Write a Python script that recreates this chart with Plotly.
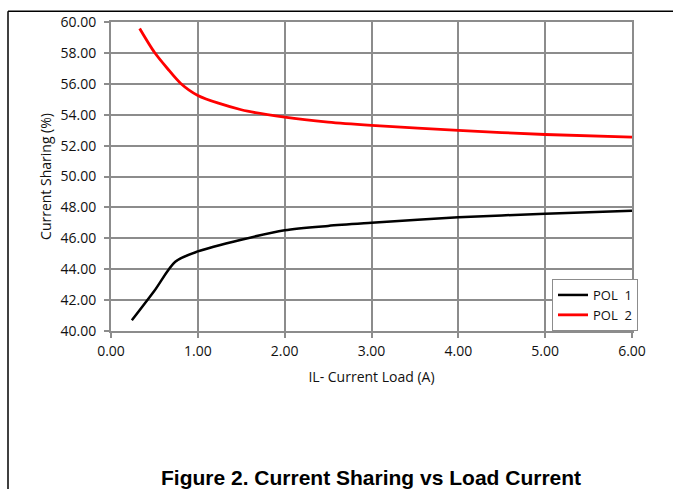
import plotly.graph_objects as go

# POL 1 (black)
x_pol1 = [0.24, 0.5, 0.74, 1.0, 1.5, 2.0, 2.5, 3.0, 4.0, 5.0, 6.0]
y_pol1 = [40.69, 42.6, 44.48, 45.15, 45.91, 46.52, 46.8, 47.0, 47.36, 47.59, 47.78]
# POL 2 (red)
x_pol2 = [0.33, 0.5, 0.65, 0.8, 1.0, 1.5, 2.0, 2.5, 3.0, 4.0, 5.0, 6.0]
y_pol2 = [59.58, 58.04, 56.99, 56.04, 55.25, 54.32, 53.84, 53.52, 53.31, 52.98, 52.72, 52.55]

x_ticks = [0, 1, 2, 3, 4, 5, 6]
y_ticks = [40, 42, 44, 46, 48, 50, 52, 54, 56, 58, 60]

FONT = "Open Sans"
GRID = "#8c8c8c"
TXT = "#111111"
FS = 14

fig = go.Figure()
fig.add_trace(go.Scatter(x=x_pol1, y=y_pol1, mode="lines", name="POL  1",
                         line=dict(color="black", width=2.5, shape="spline", smoothing=0.8)))
fig.add_trace(go.Scatter(x=x_pol2, y=y_pol2, mode="lines", name="POL  2",
                         line=dict(color="#ff0000", width=2.8, shape="spline", smoothing=0.8)))

W, H = 673, 493
L, R, T, B = 111, 632, 14, 331
pw = R - L
ph = B - T

def px(xp):
    return (xp - L) / pw

def py(yp):
    return (B - yp) / ph

fig.update_layout(
    width=W, height=H,
    margin=dict(l=L, r=W - R, t=T, b=H - B, pad=0),
    paper_bgcolor="white", plot_bgcolor="white",
    font=dict(family=FONT, size=FS, color=TXT),
    showlegend=True,
    legend=dict(x=px(552), y=0, xanchor="left", yanchor="bottom",
                bgcolor="white", bordercolor=GRID, borderwidth=1,
                font=dict(family=FONT, size=13, color=TXT),
                itemwidth=30, tracegroupgap=2),
    xaxis=dict(range=[0, 6], tickvals=x_ticks, ticktext=[f"{v:.2f}" for v in x_ticks],
               showgrid=True, gridcolor=GRID, gridwidth=2,
               showline=True, linecolor=GRID, linewidth=2, mirror=True,
               ticks="outside", ticklen=5, tickcolor=GRID, tickwidth=1.5,
               ticklabelstandoff=1,
               zeroline=False, tickfont=dict(size=FS, family=FONT, color=TXT),
               title=dict(text="IL- Current Load (A)", font=dict(size=FS, family=FONT, color=TXT), standoff=13)),
    yaxis=dict(range=[40, 60], tickvals=y_ticks, ticktext=[f"{v:.2f}" for v in y_ticks],
               showgrid=True, gridcolor=GRID, gridwidth=2,
               showline=True, linecolor=GRID, linewidth=2, mirror=True,
               ticks="outside", ticklen=5, tickcolor=GRID, tickwidth=1.5,
               ticklabelstandoff=5,
               zeroline=False, tickfont=dict(size=FS, family=FONT, color=TXT),
               title=dict(text="Current Sharing (%)", font=dict(size=FS, family=FONT, color=TXT), standoff=6)),
)

# frame lines of the figure (top and left edges)
fig.add_shape(type="line", xref="paper", yref="paper",
              x0=px(8), x1=px(673), y0=py(3), y1=py(3),
              line=dict(color="black", width=1.5))
fig.add_shape(type="line", xref="paper", yref="paper",
              x0=px(8), x1=px(8), y0=py(3), y1=py(493),
              line=dict(color="black", width=1.5))

fig.add_annotation(text="<b>Figure 2. Current Sharing vs Load Current</b>",
                   xref="paper", yref="paper", x=px(371), y=py(481),
                   showarrow=False, xanchor="center", yanchor="middle",
                   font=dict(family="Liberation Sans", size=21, color="black"))

fig.write_html("out.html", config={"displayModeBar": False},
               post_script="document.body.style.margin='0px';")
